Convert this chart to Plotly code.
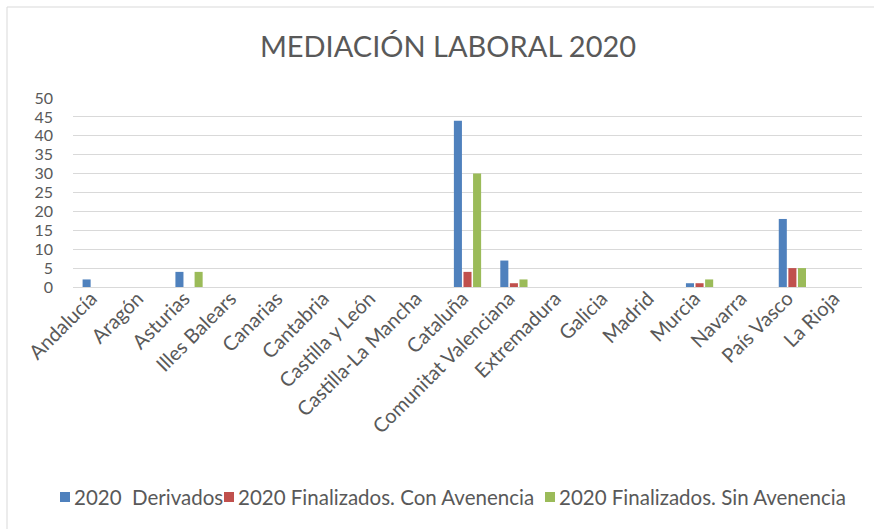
import plotly.graph_objects as go

regiones = ["Andalucía", "Aragón", "Asturias", "Illes Balears", "Canarias", "Cantabria",
            "Castilla y León", "Castilla-La Mancha", "Cataluña", "Comunitat Valenciana",
            "Extremadura", "Galicia", "Madrid", "Murcia", "Navarra", "País Vasco", "La Rioja"]
derivados = [2, 0, 4, 0, 0, 0, 0, 0, 44, 7, 0, 0, 0, 1, 0, 18, 0]
con_avenencia = [0, 0, 0, 0, 0, 0, 0, 0, 4, 1, 0, 0, 0, 1, 0, 5, 0]
sin_avenencia = [0, 0, 4, 0, 0, 0, 0, 0, 30, 2, 0, 0, 0, 2, 0, 5, 0]
y_ticks = [0, 5, 10, 15, 20, 25, 30, 35, 40, 45, 50]

series_names = ["2020  Derivados", "2020 Finalizados. Con Avenencia", "2020 Finalizados. Sin Avenencia"]
series_values = [derivados, con_avenencia, sin_avenencia]
series_colors = ["#4F81BD", "#C0504D", "#9BBB59"]

FONT = "Lato"
GREY = "#595959"

# plot-area geometry (pixels)
W, H = 874, 529
L, R, T, B = 73, 12, 98, 242
PW, PH = W - L - R, H - T - B


def px_x(x):
    return (x - L) / PW


def px_y(y):
    return (H - B - y) / PH


fig = go.Figure()
for name, vals, color in zip(series_names, series_values, series_colors):
    fig.add_trace(go.Bar(x=regiones, y=vals, name=name, marker_color=color,
                         marker_line_width=0, showlegend=False))

# manual legend (squares + text) placed like the reference
legend_left = [60, 224, 545]
legend_y = 497
shapes = [
    dict(type="line", xref="paper", yref="paper",
         x0=px_x(7), x1=px_x(7), y0=px_y(7), y1=px_y(H),
         line=dict(color="#D9D9D9", width=1)),
    dict(type="line", xref="paper", yref="paper",
         x0=px_x(7), x1=px_x(W), y0=px_y(7), y1=px_y(7),
         line=dict(color="#D9D9D9", width=1)),
]
annotations = []
for name, color, lx in zip(series_names, series_colors, legend_left):
    shapes.append(dict(type="rect", xref="paper", yref="paper",
                       x0=px_x(lx), x1=px_x(lx + 10), y0=px_y(legend_y - 5), y1=px_y(legend_y + 5),
                       fillcolor=color, line=dict(width=0)))
    annotations.append(dict(text=name, xref="paper", yref="paper", x=px_x(lx + 12), y=px_y(legend_y),
                            xanchor="left", yanchor="middle", showarrow=False,
                            font=dict(family=FONT, size=20.5, color=GREY)))

fig.update_layout(
    width=W, height=H,
    margin=dict(l=L, r=R, t=T, b=B),
    paper_bgcolor="white", plot_bgcolor="white",
    barmode="group", bargap=0.38, bargroupgap=0.16,
    font=dict(family=FONT, color=GREY, size=15),
    title=dict(text="MEDIACIÓN LABORAL 2020", x=448 / W, xanchor="center", xref="container",
               y=1 - 47 / H, yanchor="middle", yref="container",
               font=dict(family=FONT, size=29, color=GREY)),
    showlegend=False,
    xaxis=dict(tickangle=-45, showgrid=False, showline=True, linecolor="#D9D9D9",
               linewidth=1, ticks="", automargin=False, ticklabelstandoff=-9,
               ticklabelshift=-5,
               tickfont=dict(family=FONT, size=20, color=GREY)),
    yaxis=dict(range=[0, 50], tickvals=y_ticks, showgrid=True, gridcolor="#D9D9D9",
               gridwidth=1, zeroline=False, showline=False, ticks="", automargin=False,
               tickfont=dict(family=FONT, size=16, color=GREY), ticklabelstandoff=19),
    shapes=shapes,
    annotations=annotations,
)

fig.write_html("out.html")
